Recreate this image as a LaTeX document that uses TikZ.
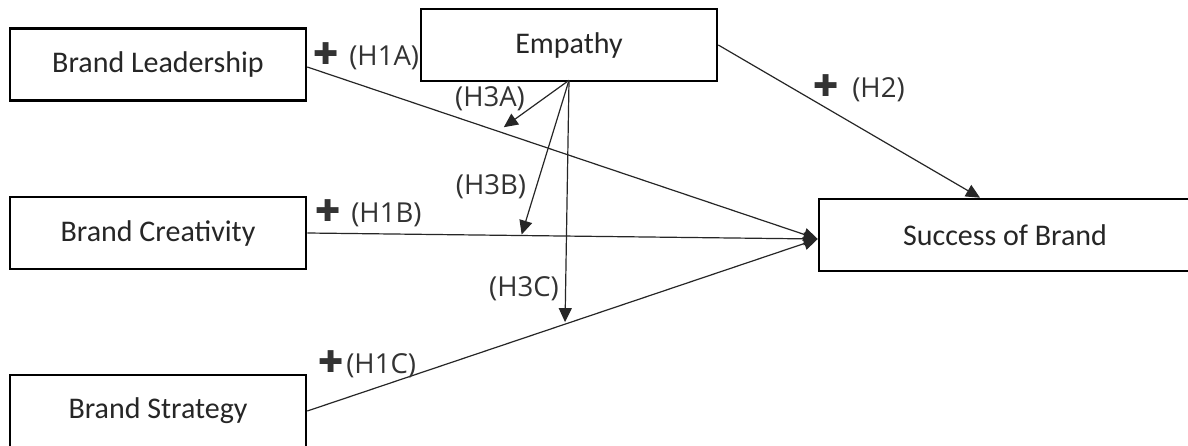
\documentclass[tikz,border=0pt]{standalone}
\usepackage{fontspec}
\setmainfont{Carlito}
\newfontfamily\lblfont{Open Sans}
\newfontfamily\symfont{DejaVu Sans}
\usetikzlibrary{arrows.meta,calc}
\tikzset{
  box/.style={draw=black, line width=2.6pt, fill=white, minimum width=296pt, minimum height=72pt,
    inner sep=0pt, font=\fontsize{30}{35}\selectfont, text=black!85},
  conn/.style={draw=black!85, line width=1.2pt},
  arr/.style={conn, -{Triangle[length=14pt,width=13pt]}},
  lbl/.style={font=\lblfont\fontsize{27.5}{32}\selectfont, text=black!80, inner sep=0pt},
}
\newcommand{\plussym}{{\symfont\fontsize{30}{34}\selectfont\raisebox{1pt}{✚}}}
\begin{document}
\begin{tikzpicture}[x=1pt,y=-1pt]
\useasboundingbox (0,0) rectangle (1188,445);
\clip (0,0) rectangle (1188,445);
\fill[white] (0,0) rectangle (1188,445);

% nodes
\node[box] (BL) at (158,64.5) {Brand Leadership};
\node[box] (E)  at (569,45) {Empathy};
\node[box] (BC) at (158,233) {Brand Creativity};
\node[box, minimum width=372pt] (SB) at (1005,235) {Success of Brand};
\node[box] (BS) at (158,411) {Brand Strategy};

% connector end points
\coordinate (SBin) at ([yshift=-4pt]SB.west);
\coordinate (SBtop) at ([xshift=-25pt]SB.north);
\coordinate (Ebot) at ([yshift=2pt]E.south);
\coordinate (BLout) at ([yshift=-2.5pt]BL.east);
\coordinate (h3a) at ($(BLout)!0.385!(SBin)+(0,-6)$);
\coordinate (h3b) at ($(BC.east)!0.42!(SBin)+(0,-1)$);
\coordinate (h3c) at ($(BS.east)!0.505!(SBin)+(0,-2)$);

% main paths
\draw[arr] (BLout) -- (SBin);
\draw[arr] (BC.east) -- (SBin);
\draw[arr] (BS.east) -- (SBin);
\draw[arr] (E.east) -- (SBtop);

% moderating paths
\draw[arr] (Ebot) -- (h3a);
\draw[arr] (Ebot) -- (h3b);
\draw[arr] (Ebot) -- (h3c);

% labels
\node[lbl, anchor=west] (lH1A) at (313,56) {\plussym\hspace{11pt}(H1A)};
\node[lbl, anchor=west] (lH1B) at (315,213) {\plussym\hspace{11pt}(H1B)};
\node[lbl, anchor=west] (lH1C) at (318,364) {\plussym\hspace{3pt}(H1C)};
\node[lbl, anchor=west] (lH2)  at (813,88) {\plussym\hspace{14pt}(H2)};
\node[lbl] (lH3A) at (490,99) {(H3A)};
\node[lbl] (lH3B) at (491,187) {(H3B)};
\node[lbl] (lH3C) at (524,289) {(H3C)};
\end{tikzpicture}
\end{document}
